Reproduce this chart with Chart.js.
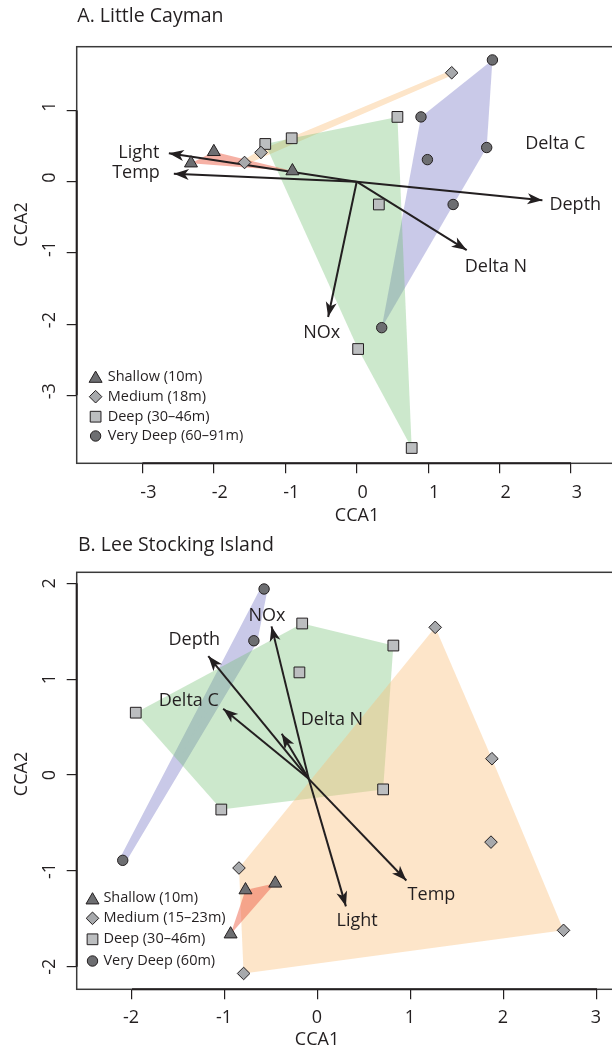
<!DOCTYPE html>
<html>
<head>
<meta charset="utf-8">
<script src="https://cdn.jsdelivr.net/npm/chart.js@4.4.1/dist/chart.umd.min.js"></script>
<style>
  html, body { margin: 0; padding: 0; background: #fff; overflow: hidden; }
  body { width: 612px; height: 1052px; position: relative; }
  .panel { position: absolute; left: 0; width: 700px; }
  #panelA { top: 0; height: 530px; }
  #panelB { top: 530px; height: 522px; }
</style>
</head>
<body>
<div class="panel" id="panelA"><canvas id="chartA"></canvas></div>
<div class="panel" id="panelB"><canvas id="chartB"></canvas></div>
<script>
// A. Little Cayman
const shallowA_x = [-2.00, -2.32, -0.90];
const shallowA_y = [0.42, 0.26, 0.15];
const mediumA_x = [1.33, -1.34, -1.57];
const mediumA_y = [1.53, 0.41, 0.27];
const deepA_x = [-1.28, -0.91, 0.57, 0.31, 0.02, 0.77];
const deepA_y = [0.53, 0.61, 0.91, -0.32, -2.35, -3.74];
const vdeepA_x = [1.90, 0.90, 1.82, 0.99, 1.35, 0.35];
const vdeepA_y = [1.71, 0.91, 0.48, 0.31, -0.32, -2.05];

const vecA_names = ['Light', 'Temp', 'Depth', 'Delta N', 'NOx', 'Delta C'];
const vecA_x = [-2.63, -2.56, 2.60, 1.54, -0.40, null];
const vecA_y = [0.40, 0.11, -0.26, -0.96, -1.90, null];
const vecA_labelX = [-3.05, -3.09, 3.06, 1.95, -0.49, 2.78];
const vecA_labelY = [0.41, 0.12, -0.33, -1.19, -2.13, 0.53];
const originA = [0, 0];

const legendA = ['Shallow (10m)', 'Medium (18m)', 'Deep (30–46m)', 'Very Deep (60–91m)'];
const ticksA_x = [-3, -2, -1, 0, 1, 2, 3];
const ticksA_y = [-3, -2, -1, 0, 1];

// B. Lee Stocking Island
const shallowB_x = [-0.46, -0.78, -0.94];
const shallowB_y = [-1.13, -1.20, -1.66];
const mediumB_x = [1.26, 1.87, 1.86, 2.64, -0.85, -0.80];
const mediumB_y = [1.54, 0.17, -0.70, -1.62, -0.97, -2.07];
const deepB_x = [-0.17, 0.81, -0.20, -1.96, 0.70, -1.04];
const deepB_y = [1.58, 1.35, 1.07, 0.65, -0.15, -0.36];
const vdeepB_x = [-0.58, -0.69, -2.10];
const vdeepB_y = [1.94, 1.40, -0.89];

const vecB_names = ['Depth', 'NOx', 'Delta C', 'Delta N', 'Light', 'Temp'];
const vecB_x = [-1.18, -0.50, -1.02, -0.39, 0.30, 0.95];
const vecB_y = [1.24, 1.55, 0.69, 0.43, -1.37, -1.10];
const vecB_labelX = [-1.33, -0.55, -1.39, 0.15, 0.42, 1.22];
const vecB_labelY = [1.41, 1.66, 0.77, 0.58, -1.52, -1.25];
const originB = [-0.10, -0.04];

const legendB = ['Shallow (10m)', 'Medium (15–23m)', 'Deep (30–46m)', 'Very Deep (60m)'];
const ticksB_x = [-2, -1, 0, 1, 2, 3];
const ticksB_y = [-2, -1, 0, 1, 2];

const INK = '#231f20';
const FONT = '"Open Sans", "Noto Sans", sans-serif';

// hull: translucent fill, solid: same tint as seen on white (used for thin bands)
const groupStyle = [
  { style: 'triangle', radius: 7.5, fill: '#6d6e71', hull: 'rgba(238,100,75,0.5)', solid: '#f7b2a5' },
  { style: 'rectRot', radius: 6.3, fill: '#a7a9ac', hull: 'rgba(250,190,120,0.4)', solid: '#fde5c9' },
  { style: 'rect', radius: 7.6, fill: '#bcbec0', hull: 'rgba(110,190,110,0.35)', solid: '#cce8cc' },
  { style: 'circle', radius: 5.2, fill: '#6d6e71', hull: 'rgba(100,100,190,0.35)', solid: '#c9c9e8' }
];

// convex hull of a group, closed
function hull(xs, ys) {
  const p = xs.map((x, i) => ({ x: x, y: ys[i] })).sort((a, b) => a.x - b.x || a.y - b.y);
  const cross = (o, a, b) => (a.x - o.x) * (b.y - o.y) - (a.y - o.y) * (b.x - o.x);
  const lower = [], upper = [];
  for (const q of p) {
    while (lower.length >= 2 && cross(lower[lower.length - 2], lower[lower.length - 1], q) <= 0) lower.pop();
    lower.push(q);
  }
  for (const q of p.slice().reverse()) {
    while (upper.length >= 2 && cross(upper[upper.length - 2], upper[upper.length - 1], q) <= 0) upper.pop();
    upper.push(q);
  }
  const h = lower.slice(0, -1).concat(upper.slice(0, -1));
  h.push(h[0]);
  return h;
}

function arrowHead(ctx, x0, y0, x1, y1) {
  const a = Math.atan2(y1 - y0, x1 - x0);
  ctx.save();
  ctx.translate(x1, y1);
  ctx.rotate(a);
  ctx.beginPath();
  ctx.moveTo(0, 0);
  ctx.lineTo(-15, -5.5);
  ctx.lineTo(-11, 0);
  ctx.lineTo(-15, 5.5);
  ctx.closePath();
  ctx.fillStyle = INK;
  ctx.fill();
  ctx.restore();
}

const decor = {
  id: 'decor',
  afterDatasetsDraw(chart) {
    const ctx = chart.ctx;
    chart.data.datasets.forEach((ds, i) => {
      if (!ds.isVector) return;
      const pts = chart.getDatasetMeta(i).data;
      arrowHead(ctx, pts[0].x, pts[0].y, pts[1].x, pts[1].y);
    });
  },
  afterDraw(chart, args, o) {
    const ctx = chart.ctx;
    const a = chart.chartArea;
    const sx = chart.scales.x, sy = chart.scales.y;
    ctx.save();
    ctx.strokeStyle = '#3a3a3a';
    ctx.lineWidth = 1.5;
    ctx.strokeRect(a.left, a.top, a.right - a.left, a.bottom - a.top);
    ctx.strokeStyle = INK;
    ctx.lineWidth = 2;
    ctx.beginPath();
    ctx.moveTo(sx.getPixelForValue(o.xTicks[0]), a.bottom);
    ctx.lineTo(sx.getPixelForValue(o.xTicks[o.xTicks.length - 1]), a.bottom);
    ctx.moveTo(a.left, sy.getPixelForValue(o.yTicks[0]));
    ctx.lineTo(a.left, sy.getPixelForValue(o.yTicks[o.yTicks.length - 1]));
    ctx.stroke();

    ctx.fillStyle = INK;
    ctx.textBaseline = 'middle';
    ctx.font = '19.5px ' + FONT;
    ctx.textAlign = 'left';
    ctx.fillText(o.title, o.titlePos[0], o.titlePos[1]);

    ctx.font = '18px ' + FONT;
    ctx.textAlign = 'center';
    ctx.fillText('CCA1', o.xTitlePos[0], o.xTitlePos[1]);
    ctx.save();
    ctx.translate(o.yTitlePos[0], o.yTitlePos[1]);
    ctx.rotate(-Math.PI / 2);
    ctx.fillText('CCA2', 0, 0);
    ctx.restore();

    ctx.font = '18px ' + FONT;
    o.vecNames.forEach((n, i) => {
      ctx.fillText(n, sx.getPixelForValue(o.labelX[i]), sy.getPixelForValue(o.labelY[i]));
    });

    ctx.font = '14.5px ' + FONT;
    ctx.textAlign = 'left';
    o.legend.forEach((txt, i) => {
      const st = groupStyle[i];
      const y = o.legendRows[i];
      const my = st.style === 'triangle' ? y + st.radius / 4 : y;
      ctx.fillStyle = st.fill;
      ctx.strokeStyle = INK;
      ctx.lineWidth = 1;
      Chart.helpers.drawPoint(ctx, { pointStyle: st.style, radius: st.radius, borderWidth: 1, rotation: 0 }, o.legendX[0], my);
      ctx.fillStyle = INK;
      ctx.fillText(txt, o.legendX[1], y);
    });
    ctx.restore();
  }
};

function makePanel(id, d) {
  const datasets = [];
  d.groups.forEach((g, gi) => {
    const band = d.band[gi];
    const st = groupStyle[gi];
    datasets.push({
      type: 'line', data: hull(g[0], g[1]), tension: 0, fill: 'shape',
      backgroundColor: band ? st.solid : st.hull,
      borderColor: band ? st.solid : 'transparent',
      borderWidth: band || 0, borderJoinStyle: 'round', borderCapStyle: 'round',
      pointRadius: 0, order: band ? 4 : 3
    });
  });
  d.vecX.forEach((vx, i) => {
    if (vx === null) return;
    datasets.push({
      type: 'line', isVector: true, fill: false,
      data: [{ x: d.origin[0], y: d.origin[1] }, { x: vx, y: d.vecY[i] }],
      borderColor: INK, borderWidth: 2, pointRadius: 0, order: 2
    });
  });
  d.groups.forEach((g, gi) => {
    const st = groupStyle[gi];
    datasets.push({
      type: 'scatter', data: g[0].map((x, i) => ({ x: x, y: g[1][i] })),
      pointStyle: st.style, pointRadius: st.radius, backgroundColor: st.fill,
      borderColor: INK, borderWidth: 1, order: 1
    });
  });

  const tickFont = { family: FONT, size: 18 };
  new Chart(document.getElementById(id), {
    type: 'scatter',
    data: { datasets: datasets },
    options: {
      responsive: true,
      maintainAspectRatio: false,
      animation: false,
      events: [],
      layout: { padding: d.padding },
      plugins: {
        legend: { display: false },
        tooltip: { enabled: false },
        decor: {
          title: d.title, titlePos: d.titlePos, xTitlePos: d.xTitlePos, yTitlePos: d.yTitlePos,
          vecNames: d.vecNames, labelX: d.labelX, labelY: d.labelY,
          legend: d.legend, legendX: d.legendX, legendRows: d.legendRows,
          xTicks: d.xTicks, yTicks: d.yTicks
        }
      },
      scales: {
        x: {
          type: 'linear', min: d.xRange[0], max: d.xRange[1],
          afterBuildTicks: s => { s.ticks = d.xTicks.map(v => ({ value: v })); },
          afterFit: s => { s.height = 40; },
          grid: { drawOnChartArea: false, drawTicks: true, tickLength: 10, color: INK, lineWidth: 1.2 },
          border: { display: false },
          ticks: { font: tickFont, color: INK, padding: d.xPad, labelOffset: d.xLabelOffset, maxRotation: 0, autoSkip: false, callback: v => String(v) }
        },
        y: {
          type: 'linear', min: d.yRange[0], max: d.yRange[1],
          afterBuildTicks: s => { s.ticks = d.yTicks.map(v => ({ value: v })); },
          afterFit: s => { s.width = 76.7; },
          grid: { drawOnChartArea: false, drawTicks: true, tickLength: 10, color: INK, lineWidth: 1.2 },
          border: { display: false },
          ticks: { font: tickFont, color: INK, padding: 9, minRotation: 90, maxRotation: 90, crossAlign: 'center', labelOffset: d.yLabelOffset, autoSkip: false, callback: v => String(v) }
        }
      }
    },
    plugins: [decor]
  });
}

makePanel('chartA', {
  groups: [[shallowA_x, shallowA_y], [mediumA_x, mediumA_y], [deepA_x, deepA_y], [vdeepA_x, vdeepA_y]],
  band: [0, 5, 0, 0],
  vecX: vecA_x, vecY: vecA_y, origin: originA,
  vecNames: vecA_names, labelX: vecA_labelX, labelY: vecA_labelY,
  legend: legendA, legendX: [95.6, 107.7], legendRows: [376.7, 396.7, 416.7, 436],
  xTicks: ticksA_x, yTicks: ticksA_y,
  xRange: [-3.92, 3.92], yRange: [-3.955, 1.896],
  padding: { left: 0, top: 46.7, right: 63.3, bottom: 26.7 },
  xPad: 9, xLabelOffset: 6, yLabelOffset: -4,
  title: 'A. Little Cayman', titlePos: [77.3, 16.7], xTitlePos: [357, 516], yTitlePos: [21.7, 224.5]
});

makePanel('chartB', {
  groups: [[shallowB_x, shallowB_y], [mediumB_x, mediumB_y], [deepB_x, deepB_y], [vdeepB_x, vdeepB_y]],
  band: [0, 0, 0, 7],
  vecX: vecB_x, vecY: vecB_y, origin: originB,
  vecNames: vecB_names, labelX: vecB_labelX, labelY: vecB_labelY,
  legend: legendB, legendX: [92.5, 103.4], legendRows: [368.3, 388.3, 409.3, 431],
  xTicks: ticksB_x, yTicks: ticksB_y,
  xRange: [-2.595, 3.5], yRange: [-2.235, 2.114],
  padding: { left: 0, top: 42.3, right: 56.5, bottom: 22.7 },
  xPad: 8, xLabelOffset: -1, yLabelOffset: 0,
  title: 'B. Lee Stocking Island', titlePos: [78, 15], xTitlePos: [317, 510], yTitlePos: [22, 244]
});
</script>
</body>
</html>
